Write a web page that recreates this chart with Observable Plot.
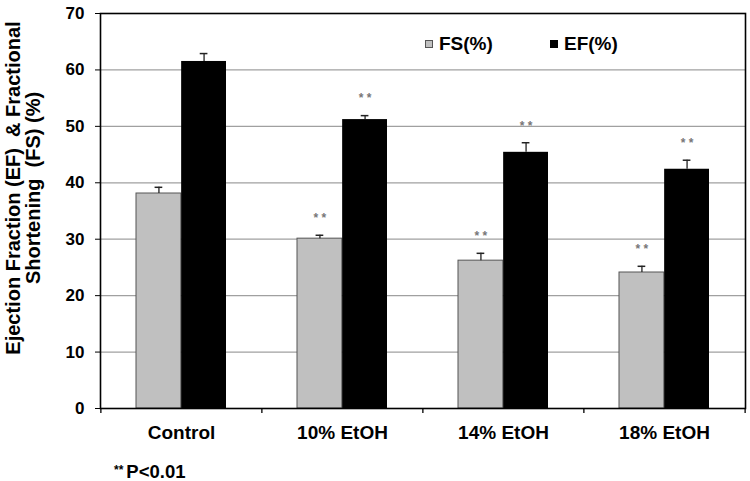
<!DOCTYPE html>
<html>
<head>
<meta charset="utf-8">
<script src="https://cdn.jsdelivr.net/npm/d3@7"></script>
<script src="https://cdn.jsdelivr.net/npm/@observablehq/plot@0.6"></script>
<style>
  html, body { margin: 0; padding: 0; background: #fff; }
  #wrap { position: relative; width: 750px; height: 481px; font-family: "Liberation Sans", Arial, sans-serif; font-weight: bold; }
  .legend { position: absolute; top: 33px; font-size: 19px; display: flex; align-items: center; }
  .legend .sw { display: inline-block; width: 8px; height: 8px; margin-right: 6px; box-sizing: border-box; }
  #foot { position: absolute; left: 114px; top: 461px; font-size: 18.5px; white-space: nowrap; }
  #foot .st { font-size: 12px; vertical-align: 4px; margin-right: 3px; }
</style>
</head>
<body>
<div id="wrap">
  <div id="chart"></div>
  <div class="legend" style="left:425px"><span class="sw" style="background:#c0c0c0;border:1px solid #555"></span>FS(%)</div>
  <div class="legend" style="left:550px"><span class="sw" style="background:#000"></span>EF(%)</div>
  <div id="foot"><span class="st">**</span>P&lt;0.01</div>
</div>
<script>
const categories = ["Control", "10% EtOH", "14% EtOH", "18% EtOH"];
const fsMean = [38.1, 30.1, 26.2, 24.1];
const fsErr  = [1.1, 0.6, 1.3, 1.1];
const efMean = [61.5, 51.2, 45.4, 42.4];
const efErr  = [1.4, 0.7, 1.7, 1.6];
const fsSig  = [false, true, true, true];
const efSig  = [false, true, true, true];
const yTicks = [0, 10, 20, 30, 40, 50, 60, 70];
const yLabel = "Ejection Fraction (EF)  & Fractional\nShortening  (FS) (%)";

const fs = categories.map((c, i) => ({cat: c, v: fsMean[i], e: fsErr[i], sig: fsSig[i]}));
const ef = categories.map((c, i) => ({cat: c, v: efMean[i], e: efErr[i], sig: efSig[i]}));

const width = 750, height = 452;
const mL = 100, mR = 5, mT = 13, mB = 44;
const pIn = 0.44, pOut = 0.22;
const step = (width - mL - mR) / (categories.length - pIn + 2 * pOut);
const bw = step * (1 - pIn);
const half = bw / 2;
const capHalf = 4;
const plotH = height - mT - mB;

const chart = Plot.plot({
  width, height,
  marginLeft: mL, marginRight: mR, marginTop: mT, marginBottom: mB,
  style: {fontFamily: "'Liberation Sans', Arial, sans-serif", fontWeight: "bold", fontSize: "17px", color: "#000", background: "#fff"},
  x: {type: "band", domain: categories, paddingInner: pIn, paddingOuter: pOut, axis: null},
  y: {domain: [0, 70], ticks: yTicks, tickSize: 5, tickPadding: 11, label: null},
  marks: [
    Plot.ruleY(yTicks.filter(t => t > 0 && t < 70), {stroke: "#a0a0a0", strokeWidth: 1.2}),
    Plot.barY(fs, {x: "cat", y: "v", fill: "#c0c0c0", stroke: "#555", strokeWidth: 1, insetRight: half}),
    Plot.barY(ef, {x: "cat", y: "v", fill: "#000", insetLeft: half}),
    Plot.ruleX(fs, {x: "cat", y1: "v", y2: d => d.v + d.e, dx: -half / 2, stroke: "#222", strokeWidth: 1.3}),
    Plot.ruleX(ef, {x: "cat", y1: "v", y2: d => d.v + d.e, dx: half / 2, stroke: "#222", strokeWidth: 1.3}),
    Plot.tickY(fs, {x: "cat", y: d => d.v + d.e, insetLeft: half / 2 - capHalf, insetRight: bw - half / 2 - capHalf, stroke: "#222", strokeWidth: 1.5}),
    Plot.tickY(ef, {x: "cat", y: d => d.v + d.e, insetLeft: half + half / 2 - capHalf, insetRight: half / 2 - capHalf, stroke: "#222", strokeWidth: 1.5}),
    Plot.text(fs.filter(d => d.sig), {x: "cat", y: d => d.v + d.e, text: () => "* *", dx: -half / 2, dy: -17, fill: "#777", fontSize: 12}),
    Plot.text(ef.filter(d => d.sig), {x: "cat", y: d => d.v + d.e, text: () => "* *", dx: half / 2, dy: -17, fill: "#777", fontSize: 12}),
    Plot.ruleX(categories, {x: d => d, dx: -step / 2, insetTop: plotH, insetBottom: -5, stroke: "#000", strokeWidth: 1.3}),
    Plot.ruleX(categories.slice(-1), {x: d => d, dx: step / 2, insetTop: plotH, insetBottom: -5, stroke: "#000", strokeWidth: 1.3}),
    Plot.text(categories, {x: d => d, frameAnchor: "bottom", dy: 24, lineAnchor: "middle", fontSize: 19, fill: "#000"}),
    Plot.text([yLabel], {frameAnchor: "left", rotate: -90, dx: -77, dy: -23, lineAnchor: "middle", textAnchor: "middle", fontSize: 20, lineHeight: 1.0, fill: "#000"}),
    Plot.frame({stroke: "#000", strokeWidth: 1.6})
  ]
});
document.getElementById("chart").appendChild(chart);
</script>
</body>
</html>
